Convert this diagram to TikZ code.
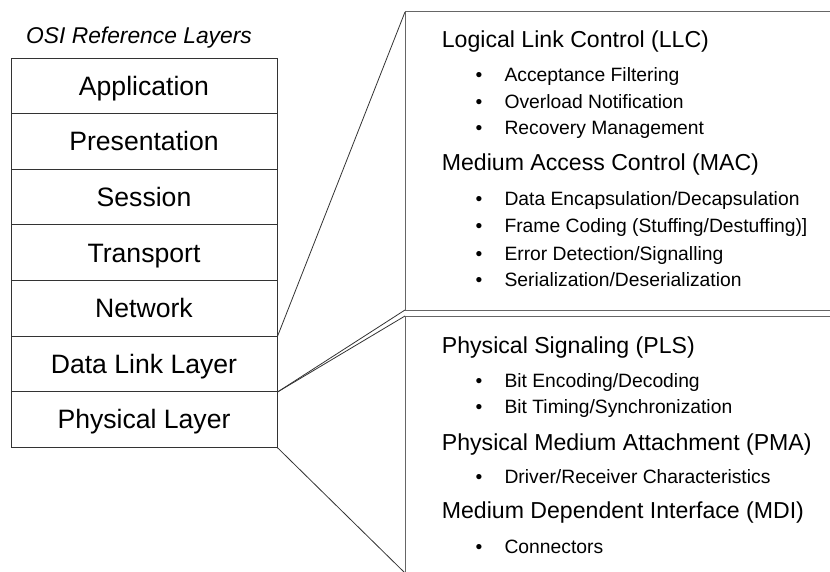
\documentclass[tikz,border=0pt]{standalone}
\usepackage{fontspec}
\setmainfont{Liberation Sans}
\begin{document}
\begin{tikzpicture}[x=1pt,y=-1pt,
  layer/.style={draw=black!80,line width=0.9pt,minimum width=266pt,minimum height=55.6pt,inner sep=0pt,
    font=\fontsize{26.6}{30}\selectfont,text height=19pt,text depth=0pt},
  boxline/.style={draw=black!60,line width=1pt},
  conn/.style={draw=black!80,line width=0.8pt},
  head/.style={anchor=base west,inner sep=0pt,font=\fontsize{23.1}{27}\selectfont},
  itemtxt/.style={anchor=base west,inner sep=0pt,font=\fontsize{19.3}{23}\selectfont},
  dot/.style={anchor=base,inner sep=0pt,font=\fontsize{19.3}{23}\selectfont},
  ttl/.style={anchor=base,inner sep=0pt,font=\fontsize{22.8}{27}\selectfont\itshape}]
\useasboundingbox (0,0) rectangle (830,572);
\node[ttl] (title) at (139,43.5) {OSI Reference Layers};
\node[layer] (app)   at (144,85.8)  {Application};
\node[layer] (pres)  at (144,141.4) {Presentation};
\node[layer] (sess)  at (144,197.0) {Session};
\node[layer] (trans) at (144,252.6) {Transport};
\node[layer] (net)   at (144,308.2) {Network};
\node[layer] (dll)   at (144,363.8) {Data Link Layer};
\node[layer] (phy)   at (144,419.4) {Physical Layer};
% right boxes
\coordinate (ubtl) at (405,12);
\coordinate (ubtr) at (831,12);
\coordinate (ubbl) at (405,310);
\coordinate (ubbr) at (831,310);
\coordinate (lbtl) at (405,316);
\coordinate (lbtr) at (831,316);
\coordinate (lbbl) at (405,573);
\draw[boxline] (ubtr) -- (ubtl) -- (ubbl) -- (ubbr);
\draw[boxline] (lbtr) -- (lbtl) -- (lbbl);
% connectors
\draw[conn] (net.south east) -- (ubtl);
\draw[conn] (dll.south east) -- (ubbl);
\draw[conn] (dll.south east) -- (lbtl);
\draw[conn] (phy.south east) -- (lbbl);
% upper text
\node[head] (llc) at (441.7,47.7) {Logical Link Control (LLC)};
\node[dot] (d1) at (479,81.7) {•};
\node[itemtxt] (i1) at (504.3,81.7) {Acceptance Filtering};
\node[dot] (d2) at (479,108.3) {•};
\node[itemtxt] (i2) at (504.3,108.3) {Overload Notification};
\node[dot] (d3) at (479,135) {•};
\node[itemtxt] (i3) at (504.3,135) {Recovery Management};
\node[head] (mac) at (441.7,170.7) {Medium Access Control (MAC)};
\node[dot] (d4) at (479,205.7) {•};
\node[itemtxt] (i4) at (504.3,205.7) {Data Encapsulation/Decapsulation};
\node[dot] (d5) at (479,232.3) {•};
\node[itemtxt] (i5) at (504.3,232.3) {Frame Coding (Stuffing/Destuffing)]};
\node[dot] (d6) at (479,260) {•};
\node[itemtxt] (i6) at (504.3,260) {Error Detection/Signalling};
\node[dot] (d7) at (479,286.7) {•};
\node[itemtxt] (i7) at (504.3,286.7) {Serialization/Deserialization};
% lower text
\node[head] (pls) at (441.7,353.3) {Physical Signaling (PLS)};
\node[dot] (d8) at (479,387.3) {•};
\node[itemtxt] (i8) at (504.3,387.3) {Bit Encoding/Decoding};
\node[dot] (d9) at (479,413.3) {•};
\node[itemtxt] (i9) at (504.3,413.3) {Bit Timing/Synchronization};
\node[head] (pma) at (441.7,450) {Physical Medium Attachment (PMA)};
\node[dot] (d10) at (479,483.3) {•};
\node[itemtxt] (i10) at (504.3,483.3) {Driver/Receiver Characteristics};
\node[head] (mdi) at (441.7,518.3) {Medium Dependent Interface (MDI)};
\node[dot] (d11) at (479,553.3) {•};
\node[itemtxt] (i11) at (504.3,553.3) {Connectors};
\end{tikzpicture}
\end{document}
